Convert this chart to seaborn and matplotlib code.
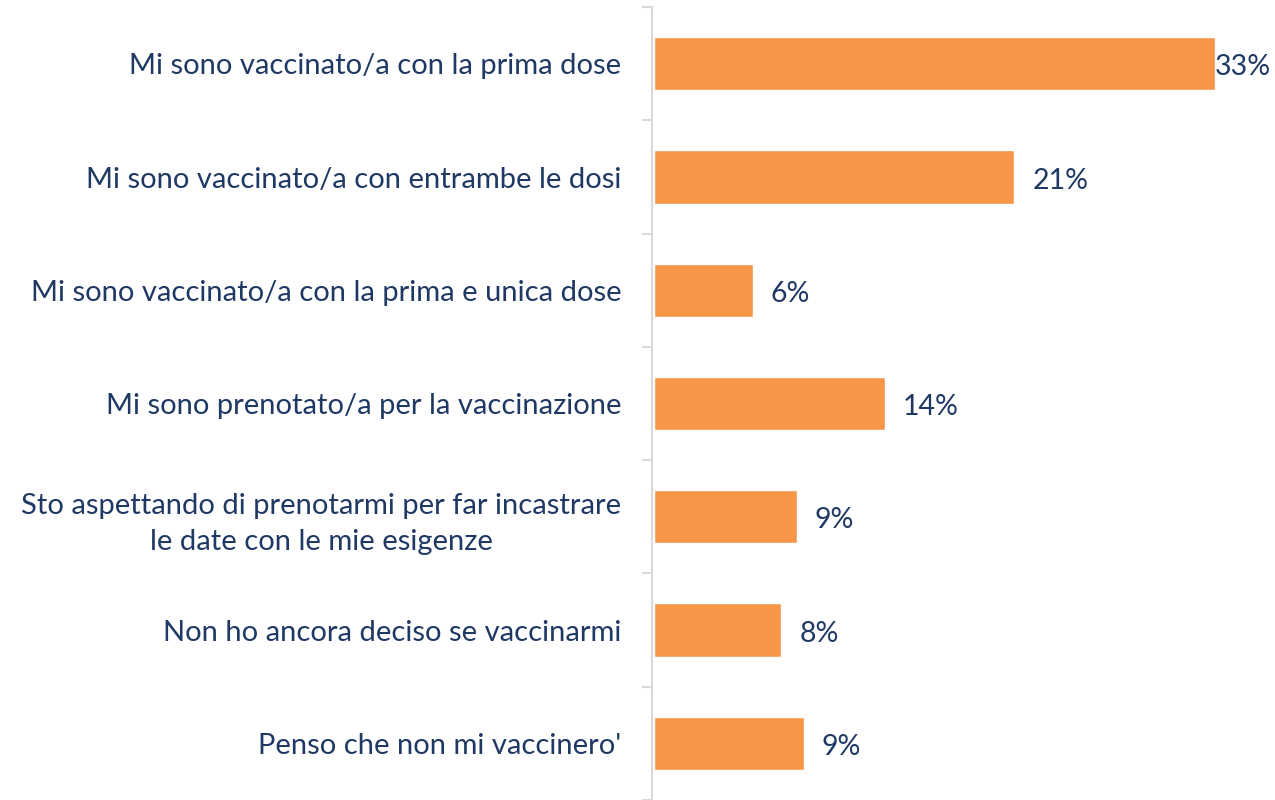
import matplotlib.pyplot as plt
import seaborn as sns
import numpy as np
import pandas as pd

# risposte e percentuali
risposte = [
    "Mi sono vaccinato/a con la prima dose",
    "Mi sono vaccinato/a con entrambe le dosi",
    "Mi sono vaccinato/a con la prima e unica dose",
    "Mi sono prenotato/a per la vaccinazione",
    "Sto aspettando di prenotarmi per far incastrare\nle date con le mie esigenze",
    "Non ho ancora deciso se vaccinarmi",
    "Penso che non mi vaccinero'",
]
valori = [33.0, 21.2, 5.8, 13.6, 8.4, 7.5, 8.8]
etichette = ["33%", "21%", "6%", "14%", "9%", "8%", "9%"]

df = pd.DataFrame({"risposta": risposte, "valore": valori})

sns.set_style("white")
plt.rcParams["font.family"] = ["Lato", "DejaVu Sans"]

navy = "#1F3864"
arancio = "#F79646"
grigio = "#D9D9D9"

fig = plt.figure(figsize=(12.75, 8), dpi=100)
ax = fig.add_axes([0.5114, 0.0, 0.4886, 0.991])

sns.barplot(data=df, x="valore", y="risposta", orient="h", color=arancio,
            saturation=1, width=0.47, edgecolor="white", linewidth=1, ax=ax)

ax.set_xlim(-0.12, 36.55)
ax.set_ylim(len(risposte) - 0.5, -0.5)
ax.set_xlabel("")
ax.set_ylabel("")
ax.set_xticks([])

for s in ["top", "right", "bottom"]:
    ax.spines[s].set_visible(False)
ax.spines["left"].set_color(grigio)
ax.spines["left"].set_linewidth(1.5)

ax.tick_params(axis="y", which="major", left=False, length=0, pad=22,
               labelsize=21, labelcolor=navy)
ax.set_yticks(np.arange(-0.5, len(risposte)), minor=True)
ax.tick_params(axis="y", which="minor", left=True, length=7.5, width=1.5, color=grigio)
for lab in ax.get_yticklabels():
    lab.set_multialignment("center")
    lab.set_linespacing(1.45)

# etichette dei valori
for i, (v, t) in enumerate(zip(valori, etichette)):
    off = 0 if i == 0 else 13
    ax.annotate(t, xy=(v, i), xytext=(off, -2.5), textcoords="offset points",
                va="center", ha="left", fontsize=20.5, color=navy)

plt.savefig("out.png", dpi=100)
